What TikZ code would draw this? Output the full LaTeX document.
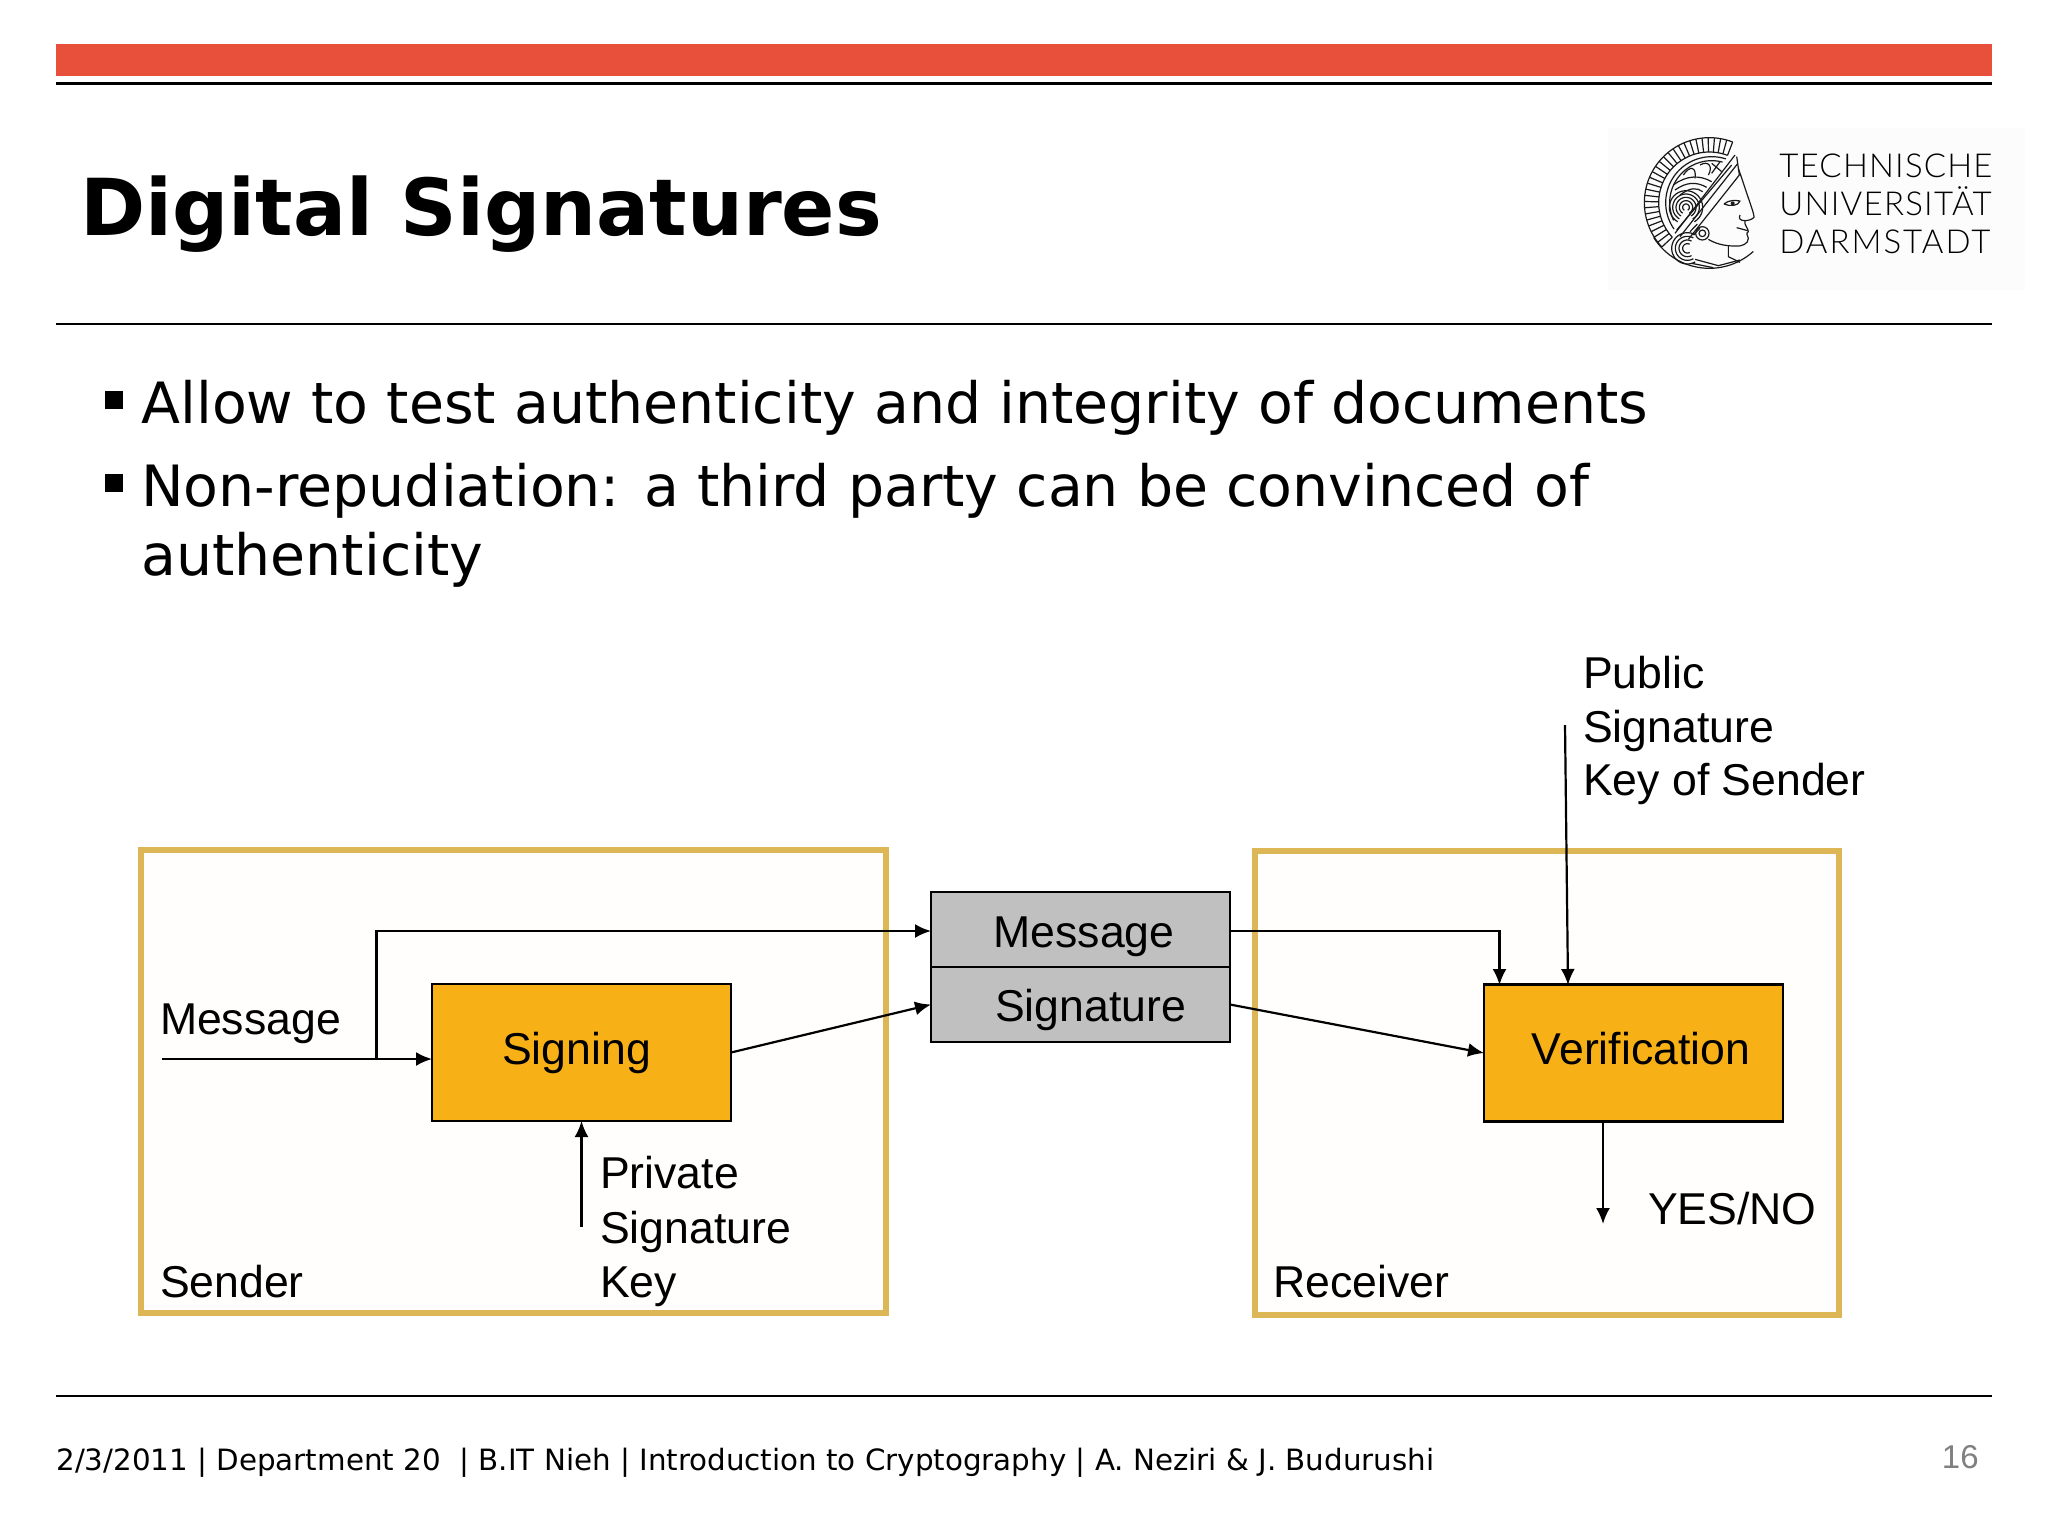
\documentclass[tikz,border=0pt]{standalone}
\usepackage{fontspec}
\usetikzlibrary{arrows.meta,calc}
\setmainfont{DejaVu Sans}
\newfontfamily\diafont{Liberation Sans}
\newfontfamily\tudfont{Lato Light}
\definecolor{redbar}{HTML}{E9503C}
\definecolor{gold}{HTML}{DDB655}
\definecolor{amber}{HTML}{F8B017}
\definecolor{graybox}{HTML}{C0C0C0}
\definecolor{innerbg}{HTML}{FFFEFC}
\tikzset{
  frameBox/.style={draw=gold,line width=3pt,fill=innerbg,inner sep=0pt,outer sep=0pt},
  procBox/.style={draw=black,line width=1.1pt,fill=amber,inner sep=0pt,outer sep=0pt,minimum width=149.5pt,minimum height=68.5pt,text height=11.5pt,text depth=0pt,font=\diafont\fontsize{22.3}{26}\selectfont},
  dataBox/.style={draw=black,line width=1pt,fill=graybox,inner sep=0pt,outer sep=0pt,minimum width=149.5pt,minimum height=37.5pt,text depth=0pt,font=\diafont\fontsize{22.3}{26}\selectfont},
  lbl/.style={anchor=base west,inner sep=0pt,outer sep=0pt,font=\diafont\fontsize{22.3}{26}\selectfont},
  conn/.style={line width=1.1pt,-{Latex[length=8pt,width=7pt]}},
  rulel/.style={line width=.7pt,black},
  logoln/.style={line width=.6pt,black!90,line join=round},
}
\begin{document}
\begin{tikzpicture}[x=.5pt,y=-.5pt]
\useasboundingbox (0,0) rectangle (2048,1536);
\fill[white] (0,0) rectangle (2048,1536);
% header
\fill[redbar] (56,44) rectangle (1992,76);
\draw[line width=1.4pt] (56,83.5) -- (1992,83.5);
\draw[rulel] (56,324) -- (1992,324);
\draw[rulel] (56,1396) -- (1992,1396);
\node[anchor=base west,inner sep=0pt] (title) at (80,235) {\fontsize{39.3}{44}\selectfont\bfseries Digital Signatures};
% bullets
\fill (105,391) rectangle (123,409);
\fill (105,474) rectangle (123,492);
\node[anchor=base west,inner sep=0pt] (b1) at (141,423.5) {\fontsize{28.47}{32}\selectfont Allow to test authenticity and integrity of documents};
\node[anchor=base west,inner sep=0pt] (b2) at (141,506) {\fontsize{28.47}{32}\selectfont Non-repudiation: a third party can be convinced of};
\node[anchor=base west,inner sep=0pt] (b3) at (141,575) {\fontsize{28.47}{32}\selectfont authenticity};
% footer
\node[anchor=base west,inner sep=0pt] (foot) at (56,1470) {\fontsize{14.67}{17}\selectfont 2/3/2011 | Department 20\ \ | B.IT Nieh | Introduction to Cryptography | A. Neziri \& J. Budurushi};
\node[anchor=base east,inner sep=0pt,text=black!50] (pageno) at (1979,1468) {\diafont\fontsize{16.5}{18}\selectfont 16};
% logo
\fill[black!1] (1608,128) rectangle (2025,290);
\node[anchor=base west,inner sep=0pt] (tu1) at (1779,177) {\tudfont\addfontfeature{LetterSpace=3.6}\fontsize{16.5}{20}\selectfont TECHNISCHE};
\node[anchor=base west,inner sep=0pt] (tu2) at (1779,215) {\tudfont\addfontfeature{LetterSpace=3.8}\fontsize{16.5}{20}\selectfont UNIVERSITÄT};
\node[anchor=base west,inner sep=0pt] (tu3) at (1779,253) {\tudfont\addfontfeature{LetterSpace=6}\fontsize{16.5}{20}\selectfont DARMSTADT};
\begin{scope}[shift={(1580,100)},x=.16667pt,y=-.16667pt,logoln]
  % crest
  \draw plot[domain=69:223,samples=50] ({388+195*cos(\x)},{308-195*sin(\x)});
  \draw plot[domain=69:223,samples=50] ({388+152*cos(\x)},{308-152*sin(\x)});
  \foreach \a in {69,74.5,...,223}
    \draw ({388+152*cos(\a)},{308-152*sin(\a)}) -- ({388+195*cos(\a)},{308-195*sin(\a)});
  % inner helmet arcs
  \draw plot[domain=72:215,samples=40] ({395+138*cos(\x)},{308-138*sin(\x)});
  \draw plot[domain=75:205,samples=40] ({395+126*cos(\x)},{308-126*sin(\x)});
  % headband
  \draw (465,165) -- (285,400);
  \draw (472,192) -- (300,410);
  \draw (455,195) -- (290,390);
  \draw (478,225) -- (325,418);
  \draw (470,170) -- (478,225);
  % helmet decoration
  \draw (310,225) .. controls (330,195) and (350,200) .. (345,235);
  \draw (360,195) .. controls (385,180) and (400,200) .. (385,225);
  \draw (395,190) -- (425,215) (420,185) -- (395,220);
  \draw (280,255) .. controls (320,225) and (360,225) .. (395,245);
  \draw (285,270) .. controls (320,245) and (350,245) .. (380,262);
  \draw (300,285) .. controls (330,262) and (350,262) .. (368,275);
  % hair spiral
  \foreach \r in {10,20,30,40,50}
    \draw plot[domain=-60:240,samples=30] ({318+\r*cos(\x)},{322-\r*sin(\x)});
  % lower hair
  \foreach \r in {14,25,36,47}
    \draw plot[domain=60:300,samples=30] ({322+\r*cos(\x)},{445-\r*sin(\x)});
  \draw (330,395) -- (352,372) (340,405) -- (360,385);
  % earring
  \draw (367,400) circle (20);
  \draw (367,400) circle (10);
  % face profile
  \draw (475,205) -- (497,270) .. controls (510,310) and (522,340) .. (522,352)
        .. controls (515,360) and (500,362) .. (495,362)
        .. controls (490,372) and (505,385) .. (505,395)
        .. controls (495,400) and (505,408) .. (505,415)
        .. controls (505,432) and (485,440) .. (465,438)
        .. controls (430,438) and (405,430) .. (385,418);
  % eye, nose, mouth
  \draw (432,312) .. controls (445,300) and (465,300) .. (480,303) .. controls (475,318) and (450,320) .. (432,312);
  \fill (458,310) circle (6);
  \draw (480,345) .. controls (475,355) and (480,362) .. (495,362);
  \draw (470,383) -- (503,392);
  % neck and bottom
  \draw (445,438) -- (445,470) -- (480,487);
  \draw plot[domain=212:312,samples=30] ({388+197*cos(\x)},{308-197*sin(\x)});
  \draw (345,478) -- (415,497) (335,490) -- (400,503) (415,497) -- (480,480);
\end{scope}
% diagram frames
\node[frameBox,minimum width=372.5pt,minimum height=231.5pt] (sender) at (513.5,1081.5) {};
\node[frameBox,minimum width=292pt,minimum height=232pt] (receiver) at (1547,1083) {};
\node[lbl] (senderlbl) at (160,1297) {Sender};
\node[lbl] (receiverlbl) at (1273,1297) {Receiver};
% boxes
\node[procBox] (signing) at (581.5,1052.5) {Signing\hspace*{5pt}};
\node[procBox] (verif) at (1633.5,1053) {\hspace*{7.5pt}Verification};
\node[dataBox,text height=17.5pt] (msgbox) at (1080.5,929.5) {\hspace*{3.5pt}Message};
\node[dataBox,text height=16.5pt] (sigbox) at (1080.5,1004.5) {\hspace*{10pt}Signature};
% labels
\node[lbl] (msglbl) at (160,1034) {Message};
\node[lbl] (priv1) at (600,1188) {Private};
\node[lbl] (priv2) at (600,1243) {Signature};
\node[lbl] (priv3) at (600,1297) {Key};
\node[lbl] (pub1) at (1583,688) {Public};
\node[lbl] (pub2) at (1583,742) {Signature};
\node[lbl] (pub3) at (1583,795) {Key of Sender};
\node[lbl] (yesno) at (1648,1224) {YES/NO};
% connector ends
\coordinate (msgstart) at (162,1059);
\coordinate (branch) at (376.5,1059);
\coordinate (keystart) at (581.5,1227);
\coordinate (pubstart) at (1565,725);
\coordinate (pubend) at (1568,985);
\coordinate (msgend) at (1499.5,985);
\coordinate (outtop) at (1603,1121);
\coordinate (outend) at (1603,1224);
% connectors
\draw[conn] (msgstart) -- (msgstart -| signing.west);
\draw[conn] (branch) |- ($(msgbox.west)+(0,1.5)$);
\draw[conn] (signing.east) -- (sigbox.west);
\draw[conn] (keystart) -- (signing.south);
\draw[conn] ($(msgbox.east)+(0,1.5)$) -| (msgend);
\draw[conn] (sigbox.east) -- (verif.west);
\draw[conn] (pubstart) -- (pubend);
\draw[conn] (outtop) -- (outend);
\end{tikzpicture}
\end{document}
